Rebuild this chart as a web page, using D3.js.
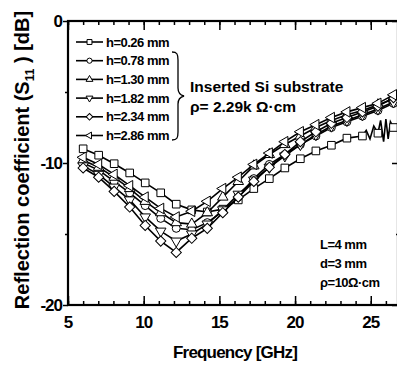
<!DOCTYPE html>
<html>
<head>
<meta charset="utf-8">
<script src="https://cdn.jsdelivr.net/npm/d3@7"></script>
<style>
  body { margin: 0; background: #fff; }
  svg { display: block; }
  text { font-family: "Liberation Sans", Arial, sans-serif; font-weight: bold; fill: #000; }
</style>
</head>
<body>
<div id="chart"></div>
<script>
// marker frequencies [GHz]
const freqs = [6.0, 7.025, 8.05, 9.075, 10.1, 11.125, 12.15, 13.175, 14.2, 15.225,
  16.25, 17.275, 18.3, 19.325, 20.35, 21.375, 22.4, 23.425, 24.45, 25.475, 26.5];

// S11 [dB] per substrate height
const s026 = [-9.0, -9.45, -10.05, -10.7, -11.4, -12.1, -12.9, -13.3, -13.45, -13.25,
  -12.6, -11.8, -11.1, -10.35, -9.7, -9.15, -8.75, -8.25, -8.1, -7.9, -7.5];
const s078 = [-10.0, -10.5, -11.3, -12.1, -13.0, -13.9, -14.6, -14.7, -14.2, -13.4,
  -12.4, -11.1, -10.1, -9.4, -8.7, -8.1, -7.5, -7.1, -6.7, -6.3, -5.8];
const s130 = [-9.8, -10.3, -11.0, -11.8, -12.7, -13.5, -14.2, -14.3, -13.5, -12.4,
  -11.3, -10.2, -9.4, -8.7, -8.1, -7.5, -7.0, -6.6, -6.3, -5.9, -5.5];
const s182 = [-10.2, -10.8, -11.7, -12.6, -13.8, -14.8, -15.5, -15.0, -14.3, -13.3,
  -12.2, -11.2, -10.3, -9.5, -8.7, -8.0, -7.4, -7.0, -6.6, -6.2, -5.7];
const s234 = [-10.35, -11.0, -12.0, -13.1, -14.4, -15.5, -16.3, -15.3, -14.6, -13.5,
  -12.4, -11.3, -10.3, -9.4, -8.5, -7.8, -7.2, -6.8, -6.4, -6.0, -5.4];
const s286 = [-9.6, -10.1, -10.8, -11.6, -12.4, -13.2, -13.8, -13.4, -12.7, -11.8,
  -11.0, -10.1, -9.3, -8.5, -7.8, -7.3, -6.8, -6.4, -6.1, -5.8, -5.2];

// noisy tail of the h=0.26 mm trace (between markers)
const tailFreqs = [24.45, 24.7, 24.95, 25.2, 25.475, 25.65, 25.85, 26.0, 26.15, 26.3, 26.5];
const tail026 = [-8.1, -7.7, -8.3, -7.4, -7.9, -7.0, -8.5, -6.9, -8.3, -7.1, -7.5];

const seriesNames = ['h=0.26 mm', 'h=0.78 mm', 'h=1.30 mm', 'h=1.82 mm', 'h=2.34 mm', 'h=2.86 mm'];
const seriesValues = [s026, s078, s130, s182, s234, s286];
const markerKinds = ['square', 'circle', 'up', 'down', 'diamond', 'left'];

const xTicks = [5, 10, 15, 20, 25];
const yTicks = [0, -10, -20];

const W = 397, H = 369;
const x = d3.scaleLinear().domain([5, 26.8]).range([68, 398]);
const y = d3.scaleLinear().domain([-20, 0]).range([305, 21]);

const svg = d3.select('#chart').append('svg')
  .attr('width', W).attr('height', H);

// symbol helper
function marker(kind, big) {
  const k = big ? 1 : 0.42;
  if (kind === 'square') return { p: d3.symbol(d3.symbolSquare, 58 * k)(), r: 0 };
  if (kind === 'circle') return { p: d3.symbol(d3.symbolCircle, 50 * k)(), r: 0 };
  if (kind === 'diamond') return { p: d3.symbol(d3.symbolSquare, 52 * k)(), r: 45 };
  const tri = d3.symbol(d3.symbolTriangle, 48 * k)();
  if (kind === 'up') return { p: tri, r: 0 };
  if (kind === 'down') return { p: tri, r: 180 };
  return { p: tri, r: -90 };
}

const line = d3.line().x(d => x(d[0])).y(d => y(d[1]));

const plot = svg.append('g');
seriesValues.forEach((vals, i) => {
  let pts = freqs.map((f, j) => [f, vals[j]]);
  if (i === 0) {
    pts = pts.filter(p => p[0] < 24.45).concat(tailFreqs.map((f, j) => [f, tail026[j]]));
  }
  plot.append('path')
    .attr('d', line(pts))
    .attr('fill', 'none')
    .attr('stroke', '#000')
    .attr('stroke-width', 1.6);
  const m = marker(markerKinds[i], true);
  plot.selectAll(null)
    .data(freqs.map((f, j) => [f, vals[j]]))
    .join('path')
    .attr('d', m.p)
    .attr('transform', d => `translate(${x(d[0])},${y(d[1])}) rotate(${m.r})`)
    .attr('fill', '#fff')
    .attr('stroke', '#000')
    .attr('stroke-width', 1);
});

// axes
const minorX = d3.range(5, 27);
function styleAxis(g) {
  g.select('.domain').remove();
  g.selectAll('line').attr('stroke', '#000').attr('stroke-width', 1.5);
  g.selectAll('text').remove();
}
svg.append('g').attr('transform', 'translate(0,305)')
  .call(d3.axisBottom(x).tickValues(minorX).tickSize(-4)).call(styleAxis);
svg.append('g').attr('transform', 'translate(0,305)')
  .call(d3.axisBottom(x).tickValues(xTicks).tickSize(-9)).call(styleAxis);
svg.append('g').attr('transform', 'translate(0,21)')
  .call(d3.axisTop(x).tickValues(minorX).tickSize(-4)).call(styleAxis);
svg.append('g').attr('transform', 'translate(0,21)')
  .call(d3.axisTop(x).tickValues(xTicks).tickSize(-9)).call(styleAxis);
svg.append('g').attr('transform', 'translate(68,0)')
  .call(d3.axisLeft(y).tickValues([-5, -15]).tickSize(3)).call(styleAxis);
svg.append('g').attr('transform', 'translate(68,0)')
  .call(d3.axisLeft(y).tickValues(yTicks).tickSize(5)).call(styleAxis);
svg.append('g').attr('transform', 'translate(398,0)')
  .call(d3.axisRight(y).tickValues([-5, -15]).tickSize(-2)).call(styleAxis);
svg.append('g').attr('transform', 'translate(398,0)')
  .call(d3.axisRight(y).tickValues(yTicks).tickSize(-6)).call(styleAxis);

// frame
const frame = svg.append('g').attr('stroke', '#000').attr('stroke-width', 2.2).attr('fill', 'none');
frame.append('rect').attr('x', x(5)).attr('y', y(0))
  .attr('width', x(26.8) - x(5)).attr('height', y(-20) - y(0));

// tick labels
svg.selectAll('.xl').data(xTicks).join('text')
  .attr('x', d => x(d)).attr('y', 328)
  .attr('text-anchor', 'middle')
  .style('font-size', '17px').style('letter-spacing', '-1px')
  .text(d => d);
svg.selectAll('.yl').data(yTicks).join('text')
  .attr('x', 62).attr('y', d => y(d) + 6)
  .attr('text-anchor', 'end')
  .style('font-size', '17px').style('letter-spacing', '-1px')
  .text(d => d);

// axis titles
svg.append('text')
  .attr('x', 235).attr('y', 358)
  .attr('text-anchor', 'middle')
  .style('font-size', '17px').style('letter-spacing', '-0.8px')
  .text('Frequency [GHz]');

const yt = svg.append('text')
  .attr('transform', 'translate(29,160) rotate(-90)')
  .attr('text-anchor', 'middle')
  .style('font-size', '20px');
yt.append('tspan').text('Reflection coefficient (S');
yt.append('tspan').attr('dy', 5).style('font-size', '12px').text('11');
yt.append('tspan').attr('dy', -5).text(' ) [dB]');

// legend
const leg = svg.append('g');
seriesNames.forEach((name, i) => {
  const cy = 42 + i * 18.7;
  leg.append('line').attr('x1', 76).attr('x2', 103).attr('y1', cy).attr('y2', cy)
    .attr('stroke', '#000').attr('stroke-width', 1.6);
  const m = marker(markerKinds[i], false);
  leg.append('path').attr('d', m.p)
    .attr('transform', `translate(89.5,${cy}) rotate(${m.r})`)
    .attr('fill', '#fff').attr('stroke', '#000').attr('stroke-width', 1);
  leg.append('text').attr('x', 106).attr('y', cy + 4.6)
    .style('font-size', '13px').style('letter-spacing', '-0.5px')
    .text(name);
});

// brace
svg.append('path')
  .attr('d', 'M172,52 C177,52 178,54 178,60 L178,88 C178,93 180,95 184,96 C180,97 178,99 178,104 L178,132 C178,138 177,140 172,140')
  .attr('fill', 'none').attr('stroke', '#000').attr('stroke-width', 1.3);

svg.append('text').attr('x', 190).attr('y', 92)
  .style('font-size', '15.5px').text('Inserted Si substrate');
svg.append('text').attr('x', 190).attr('y', 112)
  .style('font-size', '15.5px').text('ρ= 2.29k Ω·cm');

// structure parameters
const notes = ['L=4 mm', 'd=3 mm', 'ρ=10Ω·cm'];
svg.selectAll('.note').data(notes).join('text')
  .attr('x', 320).attr('y', (d, i) => 249 + i * 19)
  .style('font-size', '13px').style('letter-spacing', '-0.5px')
  .text(d => d);
</script>
</body>
</html>
